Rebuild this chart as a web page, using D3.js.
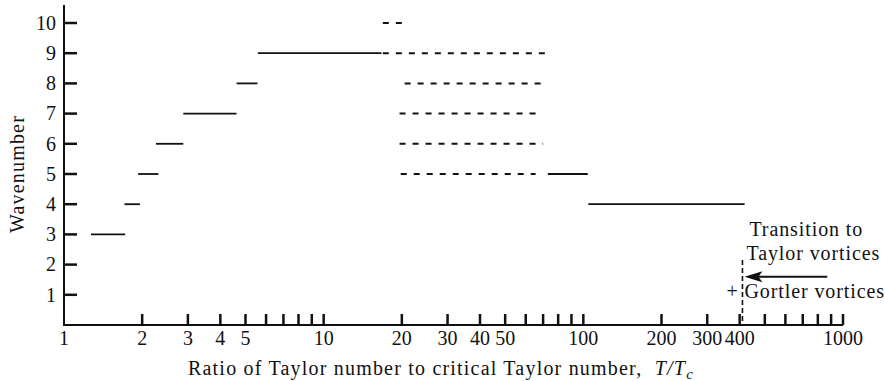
<!DOCTYPE html>
<meta charset="utf-8">
<style>
    body { margin: 0; background: #fff; }
    svg { display: block; }
    text {
        font-family: "Liberation Serif", "DejaVu Serif", serif;
        fill: #111;
        font-size: 20px;
    }
    .wide { letter-spacing: 1.2px; }
    .note text { letter-spacing: 0.9px; }
    .axis-line { stroke: #111; stroke-width: 2px; fill: none; }
    .tick { stroke: #111; stroke-width: 2.5px; }
    .seg { stroke: #111; stroke-width: 1.8px; fill: none; }
    .seg--dashed { stroke-dasharray: 6,7; stroke-width: 2px; }
</style>
<svg width="885" height="381"></svg>
<script src="https://cdn.jsdelivr.net/npm/d3@7"></script>
<script>

    // solid runs: wavenumber, start and end of T/Tc
    var solidWave = [3, 4, 5, 6, 7, 8, 9, 5, 4];
    var solidFrom = [1.27, 1.71, 1.93, 2.26, 2.88, 4.62, 5.58, 73, 104.5];
    var solidTo = [1.72, 1.96, 2.31, 2.88, 4.62, 5.56, 16.7, 104, 418];

    // dashed runs (several wavenumbers observed)
    var dashedWave = [10, 9, 8, 7, 6, 5];
    var dashedFrom = [16.9, 16.9, 20.5, 19.6, 19.6, 19.8];
    var dashedTo = [20.5, 71.9, 70.8, 66, 70, 65.5];

    var xTicks = [2, 3, 4, 5, 6, 7, 8, 9, 10, 20, 30, 40, 50, 60, 70, 80, 90, 100,
        200, 300, 400, 500, 600, 700, 800, 900, 1000];
    var xLabels = [1, 2, 3, 4, 5, 10, 20, 30, 40, 50, 100, 200, 300, 400, 1000];
    var yTicks = [1, 2, 3, 4, 5, 6, 7, 8, 9, 10];

    var transitionT = 410;
    var arrowFrom = 870;
    var arrowWave = 1.6;

    var svg = d3.select("svg");

    var x = d3.scaleLog().domain([1, 1000]).range([64, 843]);
    var y = d3.scaleLinear().domain([0, 10]).range([325, 23]);

    // axes
    svg.append("path").attr("class", "axis-line")
        .attr("d", "M" + x(1) + "," + (y(10) - 18) + "V" + y(0) + "H" + x(1000));

    svg.selectAll(".ytick").data(yTicks).enter().append("line")
        .attr("class", "tick")
        .attr("x1", x(1)).attr("x2", x(1) + 13)
        .attr("y1", y).attr("y2", y);

    svg.selectAll(".ylab").data(yTicks).enter().append("text")
        .attr("x", x(1) - 8).attr("y", y).attr("dy", "0.34em")
        .attr("text-anchor", "end")
        .text(function (d) { return d; });

    svg.selectAll(".xtick").data(xTicks).enter().append("line")
        .attr("class", "tick")
        .attr("x1", x).attr("x2", x)
        .attr("y1", y(0)).attr("y2", y(0) - 11);

    svg.selectAll(".xlab").data(xLabels).enter().append("text")
        .attr("x", x).attr("y", y(0) + 20)
        .attr("text-anchor", "middle")
        .text(function (d) { return d; });

    svg.append("text").attr("class", "wide")
        .attr("transform", "translate(24," + ((y(0) + y(10)) / 2) + ") rotate(-90)")
        .attr("text-anchor", "middle")
        .text("Wavenumber");

    var title = svg.append("text").attr("class", "wide")
        .attr("x", 188).attr("y", 375);
    title.append("tspan").text("Ratio of Taylor number to critical Taylor number,\u00a0\u00a0");
    title.append("tspan").style("font-style", "italic").text("T/T");
    title.append("tspan").style("font-style", "italic").style("font-size", "15px")
        .attr("dy", 4).text("c");

    // data runs
    svg.selectAll(".solid").data(solidWave).enter().append("line")
        .attr("class", "seg")
        .attr("x1", function (d, i) { return x(solidFrom[i]); })
        .attr("x2", function (d, i) { return x(solidTo[i]); })
        .attr("y1", y).attr("y2", y);

    svg.selectAll(".dashed").data(dashedWave).enter().append("line")
        .attr("class", "seg seg--dashed")
        .attr("x1", function (d, i) { return x(dashedFrom[i]); })
        .attr("x2", function (d, i) { return x(dashedTo[i]); })
        .attr("y1", y).attr("y2", y);

    // transition annotation
    svg.append("line")
        .attr("x1", x(transitionT)).attr("x2", x(transitionT))
        .attr("y1", y(2.15)).attr("y2", y(0))
        .style("stroke", "#111").style("stroke-width", 1.6)
        .style("stroke-dasharray", "5,3");

    var ay = y(arrowWave), tip = x(transitionT) + 2;
    svg.append("line")
        .attr("x1", x(arrowFrom)).attr("x2", tip + 12)
        .attr("y1", ay).attr("y2", ay)
        .style("stroke", "#111").style("stroke-width", 2);
    svg.append("path")
        .attr("d", "M" + tip + "," + ay + "L" + (tip + 18) + "," + (ay - 5.5)
            + "L" + (tip + 14) + "," + ay + "L" + (tip + 18) + "," + (ay + 5.5) + "Z")
        .style("fill", "#111");

    var note = svg.append("g").attr("class", "note");
    note.append("text").attr("x", x(transitionT) + 7).attr("y", 236).text("Transition to");
    note.append("text").attr("x", x(transitionT) + 4).attr("y", 260).text("Taylor vortices");
    note.append("text").attr("x", x(transitionT) - 16).attr("y", 298).text("+ Gortler vortices");

</script>
